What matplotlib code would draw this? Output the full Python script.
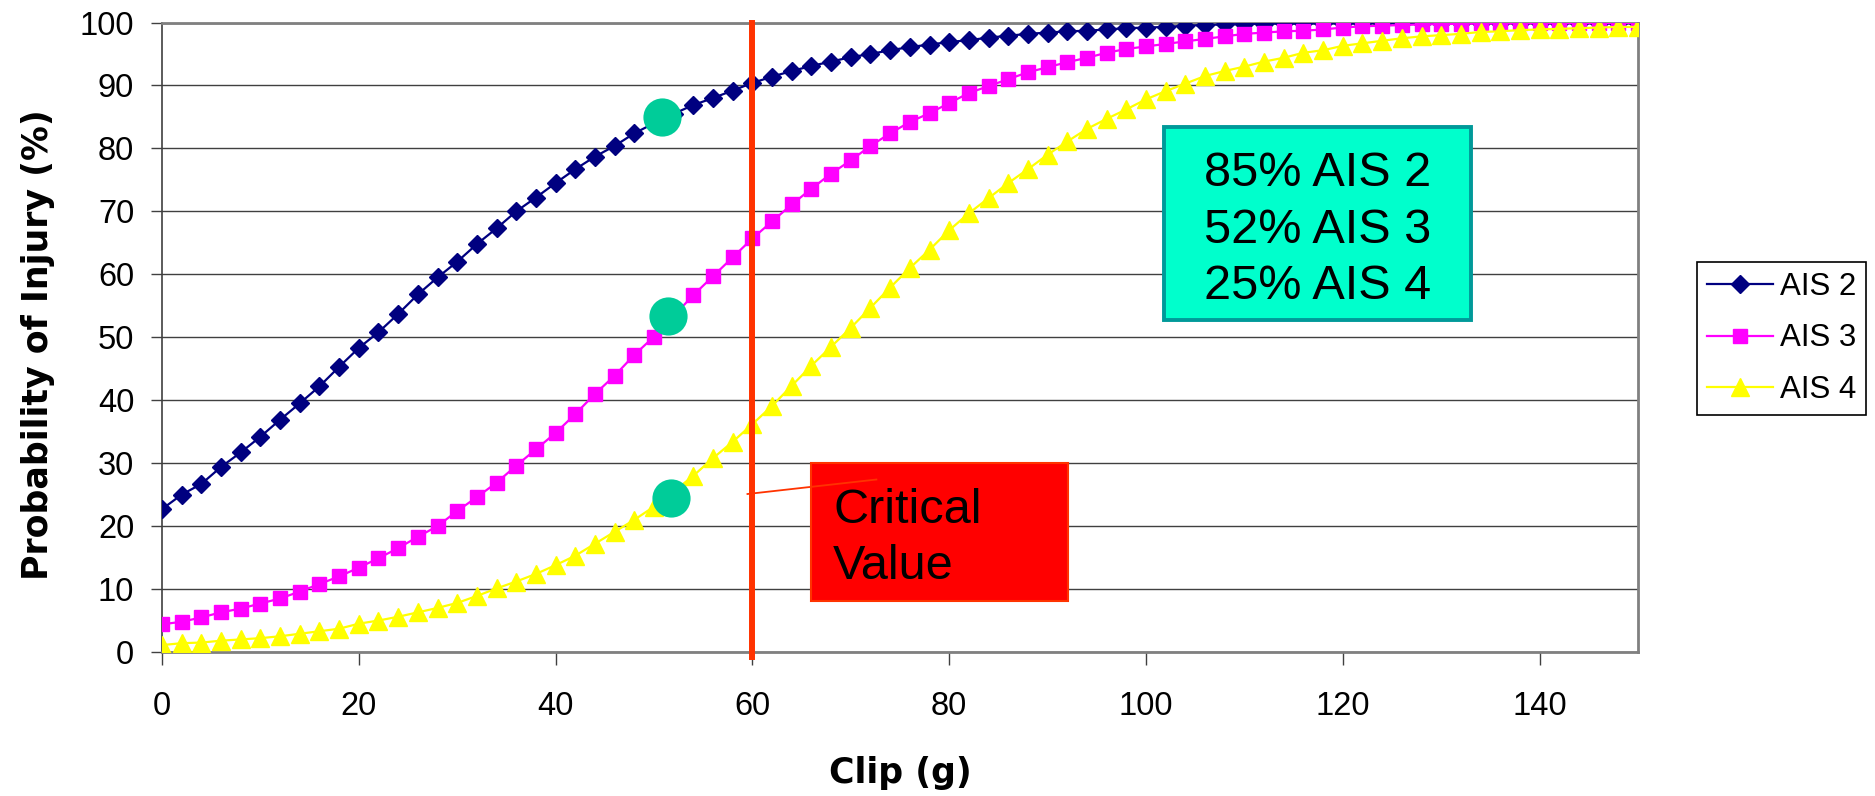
import numpy as np
import matplotlib
matplotlib.use('Agg')
from matplotlib import pyplot as plt
from matplotlib.patches import Rectangle

plt.rcParams['font.family'] = ['Liberation Sans', 'DejaVu Sans']

# clip acceleration (g), one point every 2 g
clip_g = list(range(0, 151, 2))

ais2 = [22.7, 25.0, 26.7, 29.4, 31.7, 34.2, 36.9, 39.5, 42.2, 45.3,
        48.3, 50.8, 53.7, 56.8, 59.5, 62.0, 64.8, 67.3, 70.0, 72.2,
        74.5, 76.7, 78.7, 80.4, 82.4, 84.0, 85.5, 86.9, 88.0, 89.2,
        90.4, 91.4, 92.3, 93.1, 93.8, 94.5, 95.0, 95.6, 96.1, 96.5,
        96.9, 97.2, 97.6, 97.9, 98.2, 98.4, 98.6, 98.7, 98.9, 99.1,
        99.2, 99.3, 99.5, 99.6, 99.7, 99.75, 99.8, 99.85, 99.85, 99.9,
        99.9, 99.9, 99.9, 99.92, 99.92, 99.93, 99.94, 99.94, 99.95, 99.95,
        99.95, 99.96, 99.96, 99.97, 99.97, 99.97]

ais3 = [4.4, 4.8, 5.5, 6.3, 6.9, 7.7, 8.5, 9.6, 10.8, 12.0,
        13.4, 14.9, 16.5, 18.3, 20.0, 22.4, 24.6, 26.9, 29.6, 32.2,
        34.8, 37.8, 41.0, 43.9, 47.2, 50.1, 53.4, 56.7, 59.7, 62.7,
        65.7, 68.4, 71.1, 73.6, 76.0, 78.1, 80.4, 82.4, 84.2, 85.6,
        87.2, 88.8, 89.9, 91.0, 92.1, 92.9, 93.7, 94.4, 95.2, 95.8,
        96.2, 96.6, 97.0, 97.4, 97.8, 98.2, 98.4, 98.6, 98.7, 98.9,
        99.2, 99.4, 99.5, 99.6, 99.7, 99.75, 99.8, 99.85, 99.85, 99.88,
        99.9, 99.9, 99.92, 99.93, 99.94, 99.95]

ais4 = [1.1, 1.4, 1.5, 1.8, 2.0, 2.2, 2.5, 2.9, 3.3, 3.7,
        4.5, 5.0, 5.6, 6.3, 7.0, 7.8, 8.9, 10.1, 11.2, 12.4,
        13.8, 15.3, 17.2, 19.1, 21.0, 23.1, 25.5, 28.0, 30.8, 33.4,
        36.2, 39.1, 42.3, 45.5, 48.5, 51.5, 54.7, 57.9, 61.0, 63.9,
        67.0, 69.7, 72.1, 74.5, 76.7, 79.0, 81.1, 83.1, 84.7, 86.2,
        87.8, 89.1, 90.3, 91.5, 92.3, 93.0, 93.8, 94.4, 95.2, 95.6,
        96.3, 96.7, 97.1, 97.5, 97.8, 98.0, 98.2, 98.5, 98.6, 98.8,
        98.9, 99.0, 99.1, 99.2, 99.3, 99.3]

series_names = ['AIS 2', 'AIS 3', 'AIS 4']

# highlighted points at the 52 g level
highlight_x = [50.8, 51.4, 51.7]
highlight_y = [85.0, 53.4, 24.5]

critical_value = 60
summary_text = '85% AIS 2\n52% AIS 3\n25% AIS 4'
critical_text = 'Critical\nValue'

fig = plt.figure(figsize=(18.75, 7.96), dpi=100)
ax = fig.add_axes([0.0864, 0.1809, 0.7872, 0.7908])

ax.plot(clip_g, ais2, color='#000080', lw=1.6, marker='D', ms=8.8,
        mec='#000080', mfc='#000080', label=series_names[0], zorder=3)
ax.plot(clip_g, ais3, color='#FF00FF', lw=1.6, marker='s', ms=9.5,
        mec='#FF00FF', mfc='#FF00FF', label=series_names[1], zorder=3)
ax.plot(clip_g, ais4, color='#FFFF00', lw=1.6, marker='^', ms=12.5,
        mec='#FFFF00', mfc='#FFFF00', label=series_names[2], zorder=3)

# green dots marking the 85 / 52 / 25 % points
ax.plot(highlight_x, highlight_y, 'o', ms=27.5, color='#00CC99',
        mec='none', zorder=5, label='_nolegend_')

# critical value line
ax.axvline(critical_value, ymin=-0.008, ymax=1, color='#FF3300', lw=4.3,
           zorder=6, clip_on=False)

# Critical Value callout
ax.add_patch(Rectangle((66.0, 8.1), 26.1, 21.9, facecolor='#FF0000',
                       edgecolor='#FF3300', lw=1.5, zorder=7))
ax.plot([59.5, 72.6], [25.1, 27.4], color='#FF3300', lw=1.3, zorder=8)
ax.text(68.2, 11.6, critical_text, fontsize=35, ha='left', va='baseline',
        linespacing=1.32, zorder=9)

# summary box
ax.add_patch(Rectangle((101.8, 52.7), 31.2, 30.7, facecolor='#00FFCC',
                       edgecolor='#009999', lw=2.8, zorder=7))
ax.text(117.4, 56.1, summary_text, fontsize=35, ha='center', va='baseline',
        multialignment='center', linespacing=1.32, zorder=9)

ax.set_xlim(0, 150)
ax.set_ylim(0, 100)
ax.set_xticks(range(0, 141, 20))
ax.set_yticks(range(0, 101, 10))
ax.yaxis.grid(True, color='#404040', lw=1.0)
ax.set_axisbelow(True)

ax.tick_params(axis='y', direction='out', length=8, width=1, pad=12,
               labelsize=23.5, color='#404040')
ax.tick_params(axis='x', direction='out', length=9, width=1, pad=19,
               labelsize=23.5, color='#404040')

for side in ['top', 'right', 'bottom']:
    ax.spines[side].set_color('#808080')
    ax.spines[side].set_linewidth(2)
ax.spines['left'].set_color('#404040')
ax.spines['left'].set_linewidth(1.2)

ax.set_ylabel('Probability of Injury (%)', fontsize=25, fontweight='bold',
              family='DejaVu Sans')
ax.yaxis.set_label_coords(-0.0725, 0.489)
ax.set_xlabel('Clip (g)', fontsize=25, fontweight='bold', family='DejaVu Sans')
ax.xaxis.set_label_coords(0.5, -0.165)

leg = fig.legend(loc='upper left', bbox_to_anchor=(0.905, 0.671),
                 borderaxespad=0, fontsize=22.5, frameon=True, fancybox=False,
                 edgecolor='black', framealpha=1, handlelength=2.11,
                 handletextpad=0.22, borderpad=0.32, labelspacing=0.69)
leg.get_frame().set_linewidth(1.2)

fig.savefig('out.png', dpi=100)
